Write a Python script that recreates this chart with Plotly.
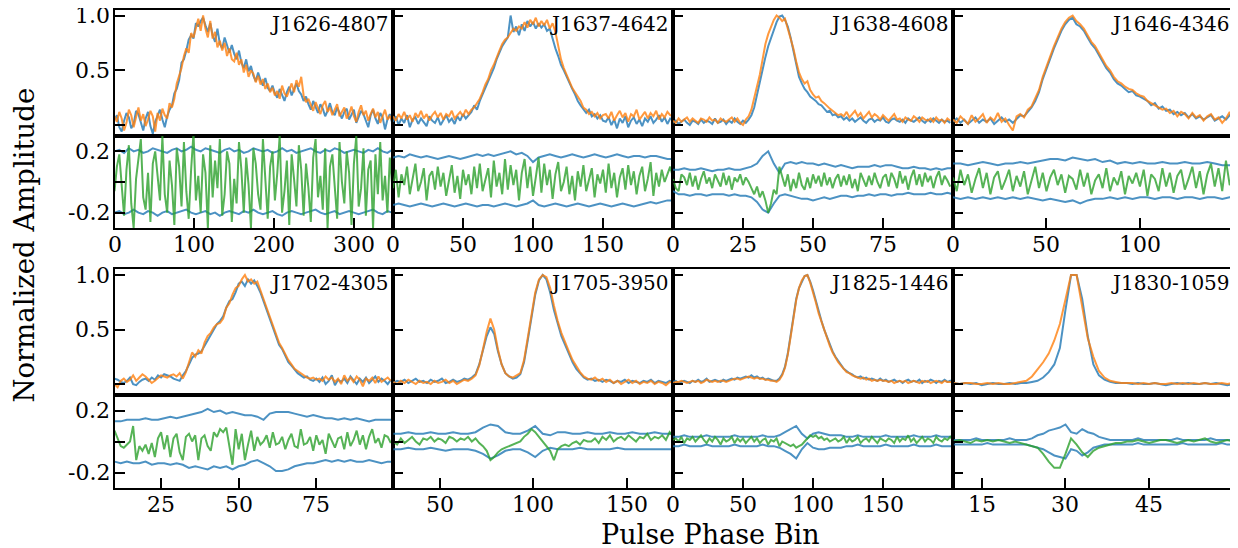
import plotly.graph_objects as go

names = ["J1626-4807", "J1637-4642", "J1638-4608", "J1646-4346",
         "J1702-4305", "J1705-3950", "J1825-1446", "J1830-1059"]

# ---------------- Panel 1 : J1626-4807 (values x100) ----------------
p1_bins = list(range(0, 349, 3))
p1_blue = [5, 9, -2, -6, 4, 11, 7, -3, 1, 13, 10, 2, -5, 6, 12, -1, -8, 3, 9, 14, 5, -2, 8,
           14, 18, 29, 33, 41, 57, 60, 68, 78, 82, 79, 93, 90, 95,
           98, 91, 85, 93, 82, 76, 88, 74, 70, 80, 72, 66, 73, 65,
           60, 68, 57, 52, 60, 49, 54, 45, 40, 48, 41, 36, 43, 34, 31,
           36, 29, 25, 33, 28, 22, 30, 35, 27, 33, 38, 31, 28, 22, 26,
           19, 14, 22, 17, 11, 19, 15, 8, 13, 20, 12, 9, 16, 11, 6,
           12, 15, 5, 9, 14, 2, 8, 13, 10, 3, -2, 9, 14, 6, 1, 11, 7, -4, 5, 10, 2]
p1_orange = [8, 3, 12, 6, -5, 2, 14, 9, -2, 7, 16, 4, 10, -1, 5, 13, 8, -6, 11, 4, 15, 9, 6,
             20, 16, 24, 38, 45, 52, 63, 70, 66, 84, 80, 88, 97, 86,
             100, 88, 80, 95, 79, 85, 71, 77, 68, 75, 63, 70, 60, 58,
             66, 55, 60, 48, 55, 44, 50, 47, 39, 45, 37, 42, 33, 38, 30,
             34, 27, 31, 24, 36, 29, 26, 33, 38, 30, 41, 35, 44, 27, 21,
             24, 18, 13, 21, 16, 10, 18, 22, 12, 16, 9, 14, 19, 8, 12,
             16, 6, 10, 17, 8, 3, 12, 18, 9, 13, 4, 10, 15, 7, 12, 2, 9, 14, 5, 8, 4]
p1_resid = [-6, 10, 18, -4, -22, 8, 24, -14, -30, 2, 16, 28, -10, -18, 6, -26, 12, 20, 4, -12, 30, -8, -20,
            14, -2, -28, 22, 10, -16, 26, -6, -24, 8, 32, -12, 4, -20,
            18, 6, -30, 24, -10, 14, -4, 28, -22, -8, 20, 12, -26, 2,
            -14, 26, 8, -20, 16, -2, -30, 22, 12, -8, -18, 28, 4, -24, 10,
            20, -12, 6, 30, -20, -6, 14, -28, 18, 2, -16, 24, 8, -22, 12,
            -4, -26, 16, 28, -10, 4, -18, 22, -30, 10, 18, -6, -24, 26, 0,
            -14, 20, 6, -28, 12, 30, -16, -4, 22, -22, 8, 14, -30, 18, -8, 26, -12, 4, -20, 16, -2]
p1_env_bins = list(range(0, 349, 6))
p1_upper = [20, 21, 19, 22, 20, 21, 19, 20, 22, 21, 20, 19, 21, 22, 20, 21, 23, 21, 20, 22,
            21, 20, 19, 21, 22, 20, 21, 19, 20, 22, 21, 20, 21, 19, 20, 22, 20, 21, 19, 20,
            21, 22, 20, 19, 21, 20, 22, 21, 19, 20, 21, 20, 19, 21, 20, 22, 20, 19, 21]
p1_lower = [-20, -19, -21, -20, -18, -20, -21, -19, -20, -22, -20, -19, -21, -20, -19, -18, -20, -21, -20, -19,
            -21, -20, -22, -20, -19, -20, -21, -19, -20, -18, -20, -21, -20, -19, -21, -22, -20, -19, -20, -21,
            -20, -19, -18, -20, -21, -20, -19, -21, -20, -19, -20, -21, -20, -19, -18, -20, -21, -19, -20]

# ---------------- Panel 2 : J1637-4642 ----------------
p2_bins = list(range(0, 201, 2))
p2_blue = [3, 8, 0, 6, 2, 9, -2, 5, 7, 1, 6, 3, -1, 8, 4, 2, 7, 0, 5, 9, 3, 6, 1, 8, 4, 10, 6, 9,
           12, 18, 14, 22, 28, 35, 40, 46, 52, 60, 66, 72, 76, 80, 100, 85, 90,
           82, 92, 86, 95, 90, 94, 88, 93, 89, 92, 86, 88, 78, 70, 63, 55,
           50, 44, 38, 33, 28, 22, 18, 15, 11, 14, 8, 10, 6, 9, 4,
           3, 7, 0, 5, -3, 6, 2, 8, -2, 4, 7, 1, 5, -1, 6, 3, 8, 2, 5, 9, 3, 7, 1, 6, 5]
p2_orange = [8, 4, 10, 6, 12, 5, 9, 3, 11, 7, 13, 6, 10, 4, 9, 12, 7, 11, 5, 10, 8, 13, 6, 9, 12, 8, 14, 10,
             14, 16, 20, 24, 30, 37, 42, 50, 55, 62, 68, 74, 78, 80, 84, 88, 86,
             90, 88, 94, 89, 96, 92, 98, 90, 95, 91, 96, 88, 93, 85, 72, 60,
             52, 46, 40, 34, 30, 26, 22, 16, 14, 10, 12, 8, 11, 6, 9,
             10, 6, 12, 4, 9, 13, 7, 11, 3, 10, 8, 14, 5, 9, 12, 6, 11, 8, 13, 5, 10, 7, 12, 9, 8]
p2_resid = [-4, 8, -10, 5, -2, 10, -8, 3, 12, -6, 0, 9, -12, 4, 7, -5, 10, -3, 6, -9, 2, 11, -7, 4, -11, 8, -2, 5,
            -8, 10, -4, 12, -6, 2, 9, -10, 14, -3, 6, -8, 15, -5, 11, -2, 8,
            -12, 6, 15, -4, 10, -9, 3, 16, -7, 12, -2, 8, -11, 5, 13, -6,
            0, 10, -8, 4, -12, 7, -3, 11, -6, 2, 9, -10, 5, -1, 8,
            -7, 12, -4, 6, -10, 3, 9, -5, 11, -2, 7, -8, 4, 10, -6, 2, 13, -9, 6, -3, 8, 0, 5, 10, 3]
p2_env_bins = list(range(0, 201, 4))
p2_upper = [16, 17, 16, 18, 17, 16, 17, 16, 15, 16, 17, 16, 15, 16, 17, 18, 17, 18, 17, 18,
            19, 20, 18, 19, 17, 13, 16, 17, 18, 17, 16, 17, 18, 17, 16, 17, 18, 17, 16, 17,
            18, 17, 16, 17, 17, 16, 17, 17, 16, 15, 15]
p2_lower = [-15, -14, -15, -16, -15, -14, -15, -16, -15, -14, -15, -16, -15, -14, -15, -16, -15, -15, -16, -15,
            -14, -15, -16, -15, -14, -12, -15, -16, -15, -14, -15, -16, -15, -14, -15, -16, -15, -14, -15, -16,
            -15, -14, -15, -16, -15, -14, -13, -14, -13, -12, -12]

# ---------------- Panel 3 : J1638-4608 ----------------
p3_bins = list(range(0, 100))
p3_blue = [2, 4, 1, 3, 5, 2, 0, 4, 3, 1, 5, 2, 4, 3, 1, 6, 2, 3, 5, 1, 4, 2, 6, 3, 1, 4, 2,
           5, 9, 16, 28, 38, 50, 62, 72, 80, 88, 94, 99, 100, 96,
           90, 80, 68, 55, 44, 38, 33, 30, 26, 24, 22, 19, 18, 15, 12, 13, 9, 10, 7, 8,
           5, 7, 4, 6, 3, 5, 7, 4, 2, 5, 6, 3, 5, 4, 7, 3, 2, 5, 6, 4, 3, 5, 2, 6, 4, 3, 5, 7, 4, 2,
           5, 3, 6, 4, 2, 5, 3, 4, 2]
p3_orange = [4, 2, 6, 3, 5, 7, 3, 6, 4, 2, 6, 5, 3, 7, 4, 5, 2, 6, 4, 3, 5, 7, 3, 6, 2, 0, 5,
             8, 14, 24, 34, 46, 60, 74, 83, 90, 96, 100, 98, 95, 97,
             88, 80, 70, 58, 48, 42, 38, 40, 32, 28, 25, 26, 22, 20, 17, 15, 13, 11, 9, 10,
             8, 12, 7, 10, 13, 8, 11, 6, 9, 12, 7, 10, 8, 5, 9, 6, 4, 7, 10, 5, 6, 3, 7, 5, 4, 8, 6, 3, 7, 5,
             4, 6, 3, 7, 4, 5, 2, 6, 4]
p3_resid = [2, -4, -6, 5, 3, -2, 6, -3, 4, -5, 2, 7, -1, 3, -4, 5, 1, -3, 6, -2, 4, -5, 3, 0, 5, -2, 3,
            0, -4, -8, -3, -10, -6, -12, -20, -14, -5, -8, 10, 4, -3,
            5, -6, 2, -4, 6, -2, -5, 3, -4, 5, -1, 4, -3, 6, -2, 3, -4, 2, 5, -3,
            4, -2, 5, -4, 2, -6, 6, 1, -3, 4, -2, 6, 0, -4, 3, 5, -3, 6, 2, -4, 7, -1, 4, -5, 3, 8, -2, 5, -3, 6,
            0, 4, -4, 3, 7, -2, 4, 1, -3]
p3_env_bins = list(range(0, 101, 2))
p3_upper = [8, 8, 9, 8, 8, 9, 8, 7, 8, 8, 9, 8, 8, 9, 10, 12, 17, 20, 12, 6,
            12, 13, 12, 13, 12, 12, 11, 12, 11, 10, 11, 10, 9, 10, 10, 10, 11, 10, 11, 11,
            10, 9, 9, 10, 9, 9, 8, 9, 8, 9, 9]
p3_lower = [-6, -8, -8, -9, -8, -8, -9, -8, -8, -8, -9, -8, -9, -9, -10, -13, -18, -20, -14, -9,
            -8, -9, -10, -11, -11, -12, -11, -10, -11, -10, -9, -9, -10, -9, -9, -8, -9, -8, -8, -9,
            -8, -8, -7, -8, -8, -8, -7, -8, -8, -7, -8]

# ---------------- Panel 4 : J1646-4346 ----------------
p4_bins = list(range(0, 151, 2))
p4_blue = [3, 6, 2, 5, 1, 4, 7, 2, 5, 3, 6, 1, 4, 7, 3, 5, 2,
           6, 9, 8, 12, 16, 22, 30, 42, 52, 62, 70, 78, 86, 92, 96,
           98, 92, 90, 86, 80, 74, 70, 64, 58, 52, 48, 42, 38, 36, 33, 30, 31, 27, 26,
           24, 22, 18, 20, 15, 17, 13, 14, 10, 12, 9, 11, 7, 10, 6, 8, 5, 7, 9, 4, 6, 8, 5, 9, 6]
p4_orange = [5, 2, 8, 4, 1, 9, 3, 6, 10, 2, 7, 4, 11, 3, 6, 0, -5,
             8, 10, 7, 14, 17, 24, 32, 44, 54, 64, 72, 80, 88, 94, 98,
             100, 95, 92, 88, 82, 76, 72, 66, 60, 54, 50, 44, 40, 38, 35, 33, 32, 29, 27,
             26, 22, 20, 18, 16, 14, 15, 11, 13, 8, 12, 10, 6, 11, 7, 9, 4, 8, 10, 5, 7, 2, 6, 12, 4]
p4_resid = [3, -6, 8, -2, 5, -7, 2, 9, -4, 6, -8, 3, 7, -5, 1, 8, -6,
            4, -3, 7, -8, 2, 10, -4, 6, -6, 3, 8, -2, 5, -7, 4,
            2, -5, 8, -3, 6, -8, 1, 5, -4, 9, -6, 3, -2, 7, -8, 4, -1, 6, -3,
            8, -9, 5, 2, -6, 9, -3, 6, -7, 4, 8, -5, 2, 10, -4, 7, -8, 5, 12, -3, 9, -6, 14, -2, 3]
p4_env_bins = list(range(0, 153, 4))
p4_upper = [12, 12, 11, 12, 13, 12, 11, 12, 12, 13, 12, 13, 14, 15, 15, 14, 16, 15, 14, 15,
            13, 14, 12, 13, 12, 13, 12, 12, 13, 12, 12, 13, 12, 12, 13, 12, 11, 11, 11]
p4_lower = [-10, -11, -10, -11, -10, -11, -10, -11, -10, -11, -10, -11, -12, -11, -12, -13, -12, -14, -12, -11,
            -11, -10, -11, -10, -11, -10, -10, -11, -10, -10, -11, -10, -10, -11, -10, -10, -11, -10, -10]

# ---------------- Panel 5 : J1702-4305 ----------------
p5_bins = list(range(10, 100))
p5_blue = [5, 4, 2, 1, 3, 6, 0, -1, 2, 4, 5, 3, 6, 4, 8, 6, 9, 8, 7, 5, 4, 3, 8, 12,
           18, 24, 27, 28, 30, 35, 40, 44, 50, 55, 58, 62, 70, 76, 78, 84, 92, 94, 90, 96,
           92, 95, 90, 84, 76, 68, 60, 52, 44, 36, 32, 26, 20, 17, 13, 10, 8, 6, 7, 4, 3, 5,
           2, 6, 0, 3, 8, -1, 4, 2, 5, 1, 7, 3, 0, 5, 2, 6, 1, 4, 7, 2, 5, 3, 0, 4]
p5_orange = [0, -3, 3, 5, 2, 4, 8, 3, 6, 9, 7, 4, 1, 3, 6, 8, 7, 6, 8, 9, 7, 10, 5, 11,
             20, 29, 25, 31, 28, 38, 44, 47, 52, 55, 56, 60, 70, 74, 82, 88, 90, 96, 100, 94,
             96, 92, 94, 85, 78, 70, 62, 54, 46, 38, 33, 27, 22, 18, 14, 12, 10, 8, 6, 5, 6, 4,
             5, 3, 7, 4, 6, 2, 5, 0, 8, 3, 6, 2, 7, 4, -2, 5, 3, 6, 1, 7, 2, 4, 6, 3]
p5_resid = [7, 2, -3, -4, -2, 0, 10, -12, -3, -6, -2, -8, -1, -10, 2, 6, -5, 4, -10, 2, 5, -7, -12, 3,
            5, 0, 4, -12, 2, 4, -3, -6, 6, 3, 8, 6, 9, -2, -15, 8, -5, 5, -12, -2,
            7, -6, 3, -2, 0, 4, -4, 6, -2, -1, 3, -5, 1, 5, -3, -4, 8, -2, -1, 3, -6, 4,
            -2, 1, -8, 5, 0, -4, 2, 3, -5, 6, -3, 1, 7, -2, 4, -5, 3, 8, -1, 2, -4, 4, 3, -1]
p5_env_bins = list(range(10, 101, 2))
p5_upper = [13, 13, 14, 14, 14, 15, 14, 14, 15, 16, 15, 16, 17, 18, 19, 21, 19, 20, 18, 19,
            18, 17, 17, 16, 14, 18, 19, 19, 19, 18, 17, 16, 17, 16, 15, 15, 14, 15, 14, 15,
            14, 13, 14, 14, 14, 14]
p5_lower = [-13, -14, -13, -14, -14, -13, -15, -14, -14, -15, -14, -15, -17, -16, -17, -18, -16, -17, -16, -18,
            -16, -15, -13, -12, -14, -16, -19, -19, -18, -16, -15, -14, -14, -13, -12, -13, -12, -13, -12, -13,
            -13, -12, -13, -14, -13, -13]

# ---------------- Panel 6 : J1705-3950 ----------------
p6_bins = list(range(25, 176, 2))
p6_blue = [1, 3, 2, 4, 1, 3, 5, 2, 3, 1, 4, 2, 3, 5, 1, 2, 4, 2, 3, 5, 4, 6,
           9, 18, 30, 44, 52, 46, 30, 18, 10, 7, 5, 6,
           9, 20, 40, 62, 82, 95, 100, 96, 84, 68, 56, 44, 36, 28, 20, 14, 10, 6, 4,
           5, 3, 4, 2, 4, 3, 1, 3, 2, 4, 1, 3, 2, 1, 3, 2, 4, 1, 3, 2, 1, 3, 2]
p6_orange = [2, 0, 3, 1, 4, 2, 0, 3, 1, 2, 0, 3, 1, 2, 4, 1, 3, 0, 2, 4, 3, 5,
             8, 17, 32, 48, 60, 50, 32, 18, 10, 7, 6, 8,
             10, 22, 42, 64, 84, 96, 100, 98, 88, 72, 58, 47, 38, 30, 22, 16, 11, 7, 5,
             4, 6, 3, 5, 2, 4, 1, 3, 0, 2, 4, 1, 3, 0, 2, 1, 3, 0, 2, 1, -1, 2, 1]
p6_resid = [0, -2, 2, -1, 1, 3, 0, -2, 2, 1, 3, 0, 2, 1, -1, 3, 2, 0, 2, 1, 3, 0,
            2, -1, -3, -6, -12, -10, -7, -5, -4, -3, -2, -1,
            0, 3, 5, 8, 6, 3, 0, -3, -6, -12, -5, -3, -2, -3, -1, 0, -2, 1, 0,
            0, 2, -1, 3, 1, 4, 0, 2, 3, 1, 4, 2, 0, 3, 2, 5, 1, 3, 2, 4, 1, 6, 3]
p6_env_bins = list(range(25, 178, 4))
p6_upper = [5, 5, 6, 5, 5, 6, 5, 5, 6, 5, 5, 6, 9, 11, 10, 6, 5, 5, 7, 10,
            5, 4, 6, 6, 5, 5, 6, 5, 5, 6, 5, 5, 6, 5, 5, 6, 5, 5, 5]
p6_lower = [-5, -5, -4, -5, -5, -4, -5, -6, -5, -5, -5, -6, -8, -11, -9, -6, -5, -5, -7, -10,
            -6, -4, -5, -5, -5, -4, -5, -5, -5, -5, -4, -5, -5, -5, -5, -5, -5, -5, -5]

# ---------------- Panel 7 : J1825-1446 ----------------
p7_bins = list(range(0, 201, 2))
p7_blue = [2, 3, 1, 2, 3, 2, 1, 3, 2, 4, 2, 3, 5, 2, 3, 4, 3, 2, 4, 3,
           4, 5, 4, 6, 5, 6, 7, 6, 8, 6, 7, 5, 6, 4, 5, 4, 3, 3, 5,
           9, 16, 28, 44, 62, 78, 88, 94, 99, 100, 94, 86, 76, 66, 58, 50, 43, 36,
           30, 25, 21, 18, 14, 12, 10, 9, 7, 6, 7, 5, 6, 4, 5, 4, 3, 5, 3,
           4, 2, 3, 4, 2, 3, 1, 3, 4, 2, 3, 2, 4, 1, 3, 2, 4, 3, 1, 3, 2, 4, 2, 3, 3]
p7_orange = [1, 2, 2, 3, 2, 1, 2, 3, 2, 3, 1, 2, 4, 3, 2, 3, 2, 3, 3, 2,
             3, 4, 5, 5, 4, 5, 6, 7, 6, 5, 6, 5, 5, 4, 4, 3, 3, 2, 4,
             8, 15, 27, 43, 61, 77, 88, 95, 99, 100, 93, 85, 75, 65, 57, 49, 42, 35,
             29, 24, 20, 17, 14, 11, 10, 8, 7, 6, 5, 6, 4, 5, 3, 4, 3, 4, 3,
             3, 2, 3, 1, 2, 3, 2, 3, 1, 2, 3, 2, 1, 3, 2, 3, 1, 2, 3, 2, 1, 3, 2, 2, 2]
p7_resid = [1, 2, 0, 3, -1, 2, 1, 3, 0, 2, 4, 1, -1, 2, 0, 3, 1, -2, 2, 0,
            1, 3, -1, 2, 0, 2, -1, 1, 3, 0, 2, -1, 1, 2, -2, 1, 0, 2, -3,
            0, -1, -2, -3, -2, -4, -3, -2, 0, 2, 4, 3, 4, 2, 3, 1, 2, 0,
            1, 2, 0, 1, 3, -1, 2, 0, 1, 3, -1, 1, 2, 0, 3, 1, -1, 2, 1,
            0, 2, 1, -1, 3, 0, 2, 1, 4, 0, 2, -1, 1, 3, 0, 2, 1, -1, 3, 1, 0, 2, 1, 3, 1]
p7_env_bins = list(range(0, 201, 4))
p7_upper = [3, 3, 4, 3, 3, 3, 4, 3, 3, 3, 3, 4, 3, 3, 3, 3, 4, 3, 3, 4,
            6, 8, 10, 5, 2, 5, 6, 5, 4, 4, 4, 3, 3, 4, 3, 3, 3, 3, 4, 3,
            3, 3, 3, 4, 3, 3, 3, 4, 3, 3, 3]
p7_lower = [-3, -3, -2, -3, -3, -3, -2, -3, -3, -3, -3, -2, -3, -3, -3, -3, -2, -3, -3, -4,
            -6, -8, -11, -5, -1, -4, -5, -5, -4, -4, -4, -3, -3, -2, -3, -3, -3, -3, -2, -3,
            -3, -3, -3, -2, -3, -3, -3, -2, -3, -3, -3]

# ---------------- Panel 8 : J1830-1059 ----------------
p8_bins = list(range(10, 61))
p8_blue = [1, 0, 1, 0, 1, -1, 0, 1, 0, 0, 1, 0, 1,
           1, 2, 3, 6, 11, 18, 33, 68, 100, 100, 78, 44, 18, 8, 4, 2, 1, 1,
           1, 0, 1, 0, 0, 1, 0, -1, 0, 1, 0, 1, 0, 0, 1, 0, 1, 0, -1, 0]
p8_orange = [1, 0, 1, 1, 0, 0, 1, 0, 1, 0, 0, 1, 2,
             3, 7, 13, 20, 28, 40, 55, 78, 100, 100, 70, 42, 25, 12, 6, 3, 2, 1,
             1, 1, 0, 1, 0, 1, 0, 0, 1, 0, 1, 0, 1, 0, 1, 0, 0, 1, 0, 1]
p8_resid = [0, 1, 0, -1, 1, 0, 1, 0, 1, 0, -1, 0,
            -1, -2, -3, -4, -8, -13, -17, -17, -8, 2, -2, -7, -10, -6, -4, -3, -2, -1, -1,
            0, 0, 1, 0, -1, 0, 1, 1, 0, -1, 0, 1, 0, 1, 2, 0, -1, 0, 1, 0]
p8_env_bins = list(range(10, 61))
p8_upper = [1, 1, 1, 1, 2, 1, 1, 1, 1, 1, 2, 1, 1,
            1, 2, 4, 5, 7, 8, 9, 11, 6, 5, 8, 6, 5, 3, 2, 1,
            1, 1, 1, 1, 2, 1, 1, 1, 1, 1, 1, 2, 1, 1, 1, 1, 1, 2, 1, 1, 1, 1]
p8_lower = [-2, -2, -2, -2, -2, -2, -1, -2, -2, -2, -2, -2, -2,
            -2, -3, -4, -5, -7, -9, -10, -11, -5, -6, -9, -7, -4, -3, -2, -2,
            -2, -2, -2, -2, -1, -2, -2, -2, -2, -2, -2, -2, -1, -2, -2, -2, -2, -2, -2, -1, -2, -2]

# axis extents (bins) and tick values per panel
x_ranges = [[0, 349], [0, 200], [0, 100], [0, 150.3],
            [10, 99.7], [24.8, 174.8], [0, 200], [9.85, 60.2]]
x_ticks = [[0, 100, 200, 300], [0, 50, 100, 150], [0, 25, 50, 75], [0, 50, 100],
           [25, 50, 75], [50, 100, 150], [0, 50, 100, 150], [15, 30, 45]]
prof_ticks = [0, 0.5, 1.0]
prof_labels = [(0.5, "0.5"), (1.0, "1.0")]
res_ticks = [-0.2, 0, 0.2]
res_labels = [(-0.2, "-0.2"), (0.2, "0.2")]

panels = [
    (p1_bins, p1_blue, p1_orange, p1_resid, p1_env_bins, p1_upper, p1_lower),
    (p2_bins, p2_blue, p2_orange, p2_resid, p2_env_bins, p2_upper, p2_lower),
    (p3_bins, p3_blue, p3_orange, p3_resid, p3_env_bins, p3_upper, p3_lower),
    (p4_bins, p4_blue, p4_orange, p4_resid, p4_env_bins, p4_upper, p4_lower),
    (p5_bins, p5_blue, p5_orange, p5_resid, p5_env_bins, p5_upper, p5_lower),
    (p6_bins, p6_blue, p6_orange, p6_resid, p6_env_bins, p6_upper, p6_lower),
    (p7_bins, p7_blue, p7_orange, p7_resid, p7_env_bins, p7_upper, p7_lower),
    (p8_bins, p8_blue, p8_orange, p8_resid, p8_env_bins, p8_upper, p8_lower),
]

# ---------------- figure ----------------
W, H = 1238, 548
OFF = 8  # page body margin
BLUE = "rgba(31,119,180,0.8)"
ORANGE = "rgba(255,127,14,0.8)"
GREEN = "rgba(44,160,44,0.8)"
FONT = "DejaVu Serif"
TICK_SIZE = 22
col_px = [114.5, 393, 673, 953, 1234]
row_px = [(9.5, 136, 228), (269, 395, 488)]


def px_x(p):
    return (p - OFF) / W


def px_y(p):
    return 1 - (p - OFF) / H


def sc(v):
    return [a / 100.0 for a in v]


def ax_id(n):
    return "" if n == 1 else str(n)


tfont = dict(family=FONT, size=TICK_SIZE, color="black")
fig = go.Figure()
layout = dict(width=W, height=H, margin=dict(l=0, r=0, t=0, b=0),
              paper_bgcolor="white", plot_bgcolor="white", showlegend=False,
              font=dict(family=FONT, color="black"))
annotations = []
common = dict(showline=True, linecolor="black", linewidth=2, mirror=True,
              showgrid=False, zeroline=False, tickcolor="black", showticklabels=False)

for i, (bins, blue, orange, resid, ebins, up, lo) in enumerate(panels):
    r, c = divmod(i, 4)
    t0, mid, b0 = row_px[r]
    xd = [px_x(col_px[c]), px_x(col_px[c + 1])]
    yd_top = [px_y(mid), px_y(t0)]
    yd_bot = [px_y(b0), px_y(mid)]
    nt, nb = 2 * i + 1, 2 * i + 2
    xt, yt = "x" + ax_id(nt), "y" + ax_id(nt)
    xb, yb = "x" + ax_id(nb), "y" + ax_id(nb)

    fig.add_trace(go.Scatter(x=bins, y=sc(blue), mode="lines", line=dict(color=BLUE, width=2),
                             xaxis=xt, yaxis=yt))
    fig.add_trace(go.Scatter(x=bins, y=sc(orange), mode="lines", line=dict(color=ORANGE, width=2),
                             xaxis=xt, yaxis=yt))
    fig.add_trace(go.Scatter(x=ebins, y=sc(up), mode="lines", line=dict(color=BLUE, width=2),
                             xaxis=xb, yaxis=yb))
    fig.add_trace(go.Scatter(x=ebins, y=sc(lo), mode="lines", line=dict(color=BLUE, width=2),
                             xaxis=xb, yaxis=yb))
    fig.add_trace(go.Scatter(x=bins, y=sc(resid), mode="lines", line=dict(color=GREEN, width=2),
                             xaxis=xb, yaxis=yb))

    layout["xaxis" + ax_id(nt)] = dict(common, domain=xd, anchor=yt, range=x_ranges[i], ticks="")
    layout["yaxis" + ax_id(nt)] = dict(common, domain=yd_top, anchor=xt, range=[-0.1, 1.055],
                                        ticks="inside", ticklen=10, tickwidth=1.5,
                                        tickvals=prof_ticks)
    layout["xaxis" + ax_id(nb)] = dict(common, domain=xd, anchor=yb, range=x_ranges[i],
                                        ticks="inside", ticklen=10, tickwidth=1.5,
                                        tickvals=x_ticks[i])
    layout["yaxis" + ax_id(nb)] = dict(common, domain=yd_bot, anchor=xb, range=[-0.3, 0.3],
                                        ticks="inside", ticklen=10, tickwidth=1.5,
                                        tickvals=res_ticks)
    # tick labels (placed at the axes' tick positions)
    for t in x_ticks[i]:
        annotations.append(dict(text=str(t), xref=xb, yref=yb + " domain", x=t, y=0,
                                xanchor="center", yanchor="top", yshift=-2,
                                showarrow=False, font=tfont))
    if c == 0:
        for v, s in prof_labels:
            annotations.append(dict(text=s, xref=xt + " domain", yref=yt, x=0, y=v,
                                    xanchor="right", yanchor="middle", xshift=-3,
                                    showarrow=False, font=tfont))
        for v, s in res_labels:
            annotations.append(dict(text=s, xref=xb + " domain", yref=yb, x=0, y=v,
                                    xanchor="right", yanchor="middle", xshift=-3,
                                    showarrow=False, font=tfont))
    annotations.append(dict(text=names[i], xref=xt + " domain", yref=yt + " domain",
                            x=1, y=1, xanchor="right", yanchor="top", xshift=-2, yshift=0,
                            showarrow=False, font=dict(family=FONT, size=20, color="black")))

annotations.append(dict(text="Pulse Phase Bin", xref="paper", yref="paper",
                        x=px_x(710), y=px_y(534), xanchor="center", yanchor="middle",
                        showarrow=False, font=dict(family=FONT, size=27, color="black")))
annotations.append(dict(text="Normalized Amplitude", xref="paper", yref="paper",
                        x=px_x(23.5), y=px_y(245), xanchor="center", yanchor="middle",
                        textangle=-90, showarrow=False,
                        font=dict(family=FONT, size=27.5, color="black")))
layout["annotations"] = annotations
fig.update_layout(**layout)
fig.write_html("out.html")
